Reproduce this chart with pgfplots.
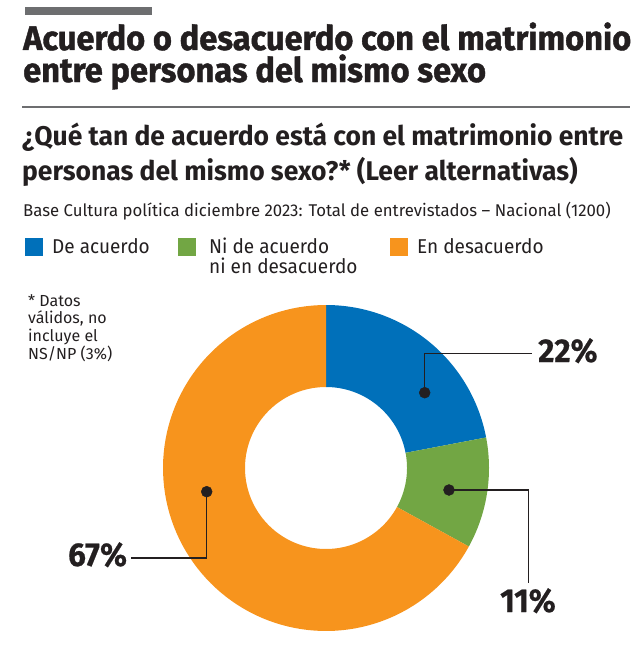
\documentclass[border=0pt]{standalone}
\usepackage{pgfplots}
\pgfplotsset{compat=1.18}
\usepackage{fontspec}
\setmainfont{Fira Sans}
\newfontfamily\titlefont[FakeStretch=0.96,FakeBold=1.2]{Fira Sans}
\newfontfamily\numfont[FakeStretch=0.95,FakeBold=0.6]{Fira Sans}
\newfontfamily\subfont[FakeStretch=0.98]{Fira Sans}
\newfontfamily\srcfont[FakeStretch=0.985]{Fira Sans}
\newfontfamily\bodyfont[FakeStretch=0.95]{Fira Sans}
\newfontfamily\notefont[FakeStretch=1.0]{Fira Sans}
\definecolor{cblue}{HTML}{0070BA}
\definecolor{cgreen}{HTML}{72A644}
\definecolor{corange}{HTML}{F7941D}
\definecolor{ink}{HTML}{231F20}
\definecolor{rulegray}{HTML}{6D6E70}
% data (percent)
\def\vA{22}\def\vB{11}\def\vC{67}
\pgfmathsetmacro\sA{3.6*\vA}
\pgfmathsetmacro\sB{3.6*\vB}
\pgfmathsetmacro\sC{3.6*\vC}
\pgfmathsetmacro\aA{90}
\pgfmathsetmacro\aB{90-\sA}
\pgfmathsetmacro\aC{90-\sA-\sB}
\newcommand\donutsector[3]{%
\addplot[fill=#3, draw=none, domain=0:3, samples=301, variable=\t]
 ({326+(163-82*min(max(\t-1,0),1))*cos(#1-#2*min(\t,1)+#2*max(\t-2,0))},
  {468-(163-82*min(max(\t-1,0),1))*sin(#1-#2*min(\t,1)+#2*max(\t-2,0))});}
\begin{document}
\begin{tikzpicture}
\begin{axis}[x=1pt, y=1pt, y dir=reverse, xmin=0, xmax=640, ymin=0, ymax=661,
  hide axis, clip=false, scale only axis]
\path (0,0) rectangle (640,661);
% header decorations
\fill[rulegray] (25,7) rectangle (152,15);
\draw[rulegray, line width=1.3pt] (22,107) -- (630,107);
\node[anchor=base west, inner sep=0, text=ink, font=\titlefont\bfseries\fontsize{34}{34}\selectfont] at (23,50) {Acuerdo o desacuerdo con el matrimonio};
\node[anchor=base west, inner sep=0, text=ink, font=\titlefont\bfseries\fontsize{34}{34}\selectfont] at (23,82) {entre personas del mismo sexo};
\node[anchor=base west, inner sep=0, text=ink, font=\subfont\bfseries\fontsize{27}{27}\selectfont] at (22,145) {¿Qué tan de acuerdo está con el matrimonio entre};
\node[anchor=base west, inner sep=0, text=ink, font=\subfont\bfseries\fontsize{27}{27}\selectfont] at (22,180) {personas del mismo sexo?* (Leer alternativas)};
\node[anchor=base west, inner sep=0, text=ink, font=\srcfont\fontsize{17}{17}\selectfont] at (23,216) {Base Cultura política diciembre 2023: Total de entrevistados – Nacional (1200)};
% legend
\fill[cblue] (25,238) rectangle (43,256);
\fill[cgreen] (178,238) rectangle (196,256);
\fill[corange] (390,238) rectangle (408,256);
\node[anchor=base west, inner sep=0, text=ink, font=\bodyfont\fontsize{20}{20}\selectfont] at (52,253) {De acuerdo};
\node[anchor=base west, inner sep=0, text=ink, font=\bodyfont\fontsize{20}{20}\selectfont] at (209,253) {Ni de acuerdo};
\node[anchor=base west, inner sep=0, text=ink, font=\bodyfont\fontsize{20}{20}\selectfont] at (209,273) {ni en desacuerdo};
\node[anchor=base west, inner sep=0, text=ink, font=\bodyfont\fontsize{20}{20}\selectfont] at (417,253) {En desacuerdo};
% note
\node[anchor=base west, inner sep=0, text=ink, font=\notefont\fontsize{16}{16}\selectfont] at (28,306) {* Datos};
\node[anchor=base west, inner sep=0, text=ink, font=\notefont\fontsize{16}{16}\selectfont] at (28,323) {válidos, no};
\node[anchor=base west, inner sep=0, text=ink, font=\notefont\fontsize{16}{16}\selectfont] at (28,341) {incluye el};
\node[anchor=base west, inner sep=0, text=ink, font=\notefont\fontsize{16}{16}\selectfont] at (28,359) {NS/NP (3\%)};
% donut
\donutsector{\aA}{\sA}{cblue}
\donutsector{\aB}{\sB}{cgreen}
\donutsector{\aC}{\sC}{corange}
% leaders
\addplot[ink, line width=1.3pt, mark=none] coordinates {(424.7,392.7) (424.7,353.3) (531.7,353.3)};
\addplot[ink, line width=1.3pt, mark=none] coordinates {(449,490) (528.7,490) (528.7,583)};
\addplot[ink, line width=1.3pt, mark=none] coordinates {(206.7,491.7) (206.7,558) (131,558)};
\addplot[only marks, mark=*, mark size=5.5pt, mark options={fill=ink, draw=ink}] coordinates {(424.7,392.7) (449,490) (206.7,491.7)};
\node[anchor=base west, inner sep=0, text=ink, font=\numfont\bfseries\fontsize{33}{33}\selectfont] at (538,362) {\vA\%};
\node[anchor=base west, inner sep=0, text=ink, font=\numfont\bfseries\fontsize{33}{33}\selectfont] at (500,612) {\vB\%};
\node[anchor=base west, inner sep=0, text=ink, font=\numfont\bfseries\fontsize{33}{33}\selectfont] at (68,566) {\vC\%};
\end{axis}
\end{tikzpicture}
\end{document}
